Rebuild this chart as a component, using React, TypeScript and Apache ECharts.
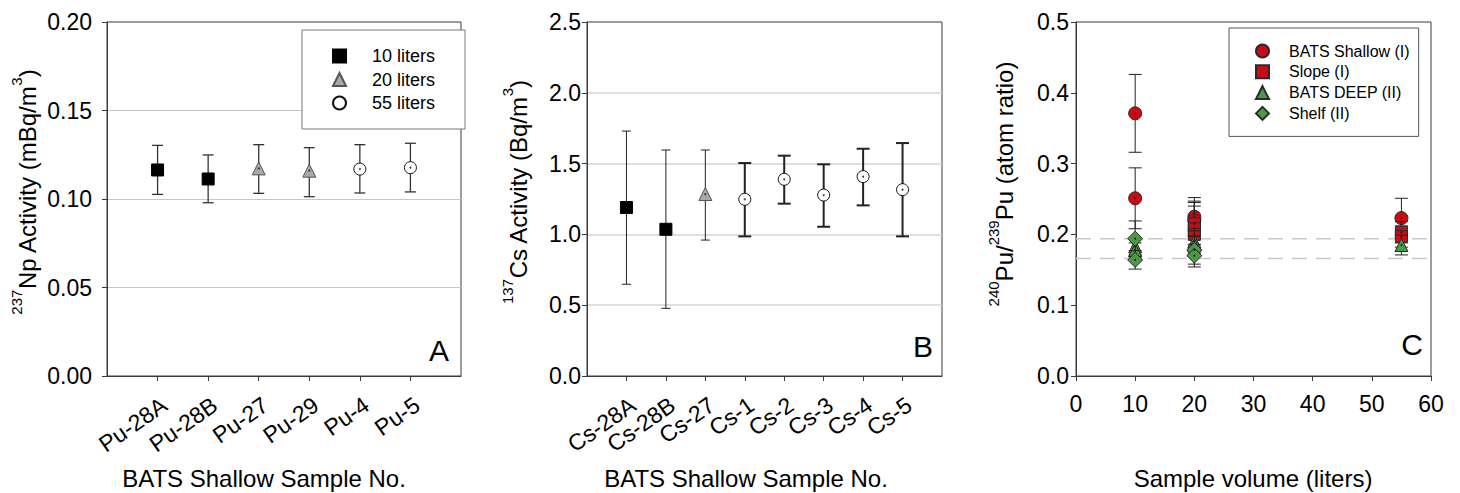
import React, { useEffect, useRef } from 'react';
import * as echarts from 'echarts';

const FONT = '"Liberation Sans", Arial, Helvetica, sans-serif';

// ---------- Panel A: 237Np activity ----------
const npCategories = ['Pu-28A', 'Pu-28B', 'Pu-27', 'Pu-29', 'Pu-4', 'Pu-5'];
const npVolume = [10, 10, 20, 20, 55, 55];
const npValues = [0.1164, 0.1113, 0.1173, 0.116, 0.1169, 0.1177];
const npLow = [0.1026, 0.0979, 0.1032, 0.1013, 0.1034, 0.104];
const npHigh = [0.1303, 0.1249, 0.1307, 0.129, 0.1307, 0.1315];
const npTicks = [0, 0.05, 0.1, 0.15, 0.2];

// ---------- Panel B: 137Cs activity ----------
const csCategories = ['Cs-28A', 'Cs-28B', 'Cs-27', 'Cs-1', 'Cs-2', 'Cs-3', 'Cs-4', 'Cs-5'];
const csVolume = [10, 10, 20, 55, 55, 55, 55, 55];
const csValues = [1.19, 1.036, 1.285, 1.248, 1.389, 1.278, 1.408, 1.316];
const csLow = [0.648, 0.478, 0.96, 0.986, 1.217, 1.054, 1.205, 0.986];
const csHigh = [1.73, 1.596, 1.596, 1.504, 1.556, 1.495, 1.605, 1.645];
const csTicks = [0, 0.5, 1.0, 1.5, 2.0, 2.5];

// legend of sample volumes
const volumeNames = ['10 liters', '20 liters', '55 liters'];
const volumeValues = [10, 20, 55];

// ---------- Panel C: 240Pu/239Pu ----------
const groupNames = ['BATS Shallow (I)', 'Slope (I)', 'BATS DEEP (II)', 'Shelf (II)'];
const shallowVol = [10, 10, 20, 20, 55];
const shallowRatio = [0.371, 0.251, 0.225, 0.22, 0.223];
const shallowErr = [0.055, 0.043, 0.027, 0.027, 0.028];
const slopeVol = [20, 20, 20, 55, 55];
const slopeRatio = [0.215, 0.208, 0.2, 0.203, 0.197];
const slopeErr = [0.03, 0.032, 0.02, 0.015, 0.015];
const deepVol = [10, 10, 20, 20, 55];
const deepRatio = [0.183, 0.178, 0.19, 0.185, 0.185];
const deepErr = [0.012, 0.01, 0.015, 0.012, 0.014];
const shelfVol = [10, 10, 20, 20];
const shelfRatio = [0.194, 0.164, 0.178, 0.17];
const shelfErr = [0.025, 0.013, 0.02, 0.016];
const refRatios = [0.194, 0.166];
const volTicks = [0, 10, 20, 30, 40, 50, 60];
const ratioTicks = [0, 0.1, 0.2, 0.3, 0.4, 0.5];

const RED = '#cc0a14';
const GREEN = '#4c9a48';

const volumeStyle: Record<number, any> = {
  10: { symbol: 'rect', size: 12, color: '#000000', borderColor: '#000000' },
  20: { symbol: 'triangle', size: 13, color: '#a9a9a9', borderColor: '#555555' },
  55: { symbol: 'circle', size: 12, color: '#ffffff', borderColor: '#111111' },
};

function errorBarSeries(name: string, xi: number, data: number[][], color: string, lw: number, capHalf: number, z: number) {
  return {
    type: 'custom',
    name,
    xAxisIndex: xi,
    yAxisIndex: xi,
    z,
    silent: true,
    encode: { x: 0, y: [1, 2, 3] },
    data,
    renderItem: (params: any, api: any) => {
      const x = api.value(0);
      const lo = api.value(2);
      const hi = api.value(3);
      const pHi = api.coord([x, hi]);
      const pLo = api.coord([x, lo]);
      const style = { stroke: color, lineWidth: lw, fill: 'none' };
      return {
        type: 'group',
        children: [
          { type: 'line', shape: { x1: pHi[0], y1: pHi[1], x2: pLo[0], y2: pLo[1] }, style },
          { type: 'line', shape: { x1: pHi[0] - capHalf, y1: pHi[1], x2: pHi[0] + capHalf, y2: pHi[1] }, style },
          { type: 'line', shape: { x1: pLo[0] - capHalf, y1: pLo[1], x2: pLo[0] + capHalf, y2: pLo[1] }, style },
        ],
      };
    },
  };
}

function markerSeries(name: string, xi: number, data: number[][], st: any, z: number) {
  return {
    type: 'scatter',
    name,
    xAxisIndex: xi,
    yAxisIndex: xi,
    z,
    symbol: st.symbol,
    symbolSize: st.size,
    data,
    itemStyle: { color: st.color, borderColor: st.borderColor, borderWidth: 1, opacity: 1 },
  };
}

function dotSeries(name: string, xi: number, data: number[][], z: number) {
  return {
    type: 'scatter',
    name,
    xAxisIndex: xi,
    yAxisIndex: xi,
    z,
    silent: true,
    symbol: 'circle',
    symbolSize: 2,
    data,
    itemStyle: { color: '#111' },
  };
}

function padCats(c: string[]) {
  return [' ', ...c, '  '];
}

function buildOption() {
  const series: any[] = [];

  // Panel A
  volumeValues.forEach((v, k) => {
    const idx = npVolume.map((vv, i) => (vv === v ? i : -1)).filter((i) => i >= 0);
    const st = volumeStyle[v];
    series.push(errorBarSeries('A err ' + v, 0, idx.map((i) => [i + 1, npValues[i], npLow[i], npHigh[i]]), '#333', 1.3, 5.5, 2));
    series.push(markerSeries(volumeNames[k], 0, idx.map((i) => [i + 1, npValues[i]]), st, 3));
    series.push(dotSeries('A dot ' + v, 0, idx.map((i) => [i + 1, npValues[i]]), 4));
  });

  // Panel B
  volumeValues.forEach((v) => {
    const idx = csVolume.map((vv, i) => (vv === v ? i : -1)).filter((i) => i >= 0);
    const st = volumeStyle[v];
    const thick = v === 55;
    series.push(errorBarSeries('B err ' + v, 1, idx.map((i) => [i + 1, csValues[i], csLow[i], csHigh[i]]), '#222', thick ? 2 : 1, thick ? 6.5 : 4.5, 2));
    series.push(markerSeries('B ' + v + ' liters', 1, idx.map((i) => [i + 1, csValues[i]]), st, 3));
    series.push(dotSeries('B dot ' + v, 1, idx.map((i) => [i + 1, csValues[i]]), 4));
  });

  // Panel C reference lines
  refRatios.forEach((r, i) => {
    series.push({
      type: 'line',
      name: 'ref ' + i,
      xAxisIndex: 2,
      yAxisIndex: 2,
      z: 1,
      silent: true,
      symbol: 'none',
      data: [[volTicks[0], r], [volTicks[volTicks.length - 1], r]],
      lineStyle: { color: '#c9c9c9', width: 1.5, type: [15, 9] },
    });
  });

  const groups = [
    { name: groupNames[0], vol: shallowVol, val: shallowRatio, err: shallowErr, st: { symbol: 'circle', size: 13, color: RED, borderColor: '#2a2a2a' } },
    { name: groupNames[1], vol: slopeVol, val: slopeRatio, err: slopeErr, st: { symbol: 'rect', size: 12, color: RED, borderColor: '#2a2a2a' } },
    { name: groupNames[2], vol: deepVol, val: deepRatio, err: deepErr, st: { symbol: 'triangle', size: 13, color: GREEN, borderColor: '#2a2a2a' } },
    { name: groupNames[3], vol: shelfVol, val: shelfRatio, err: shelfErr, st: { symbol: 'diamond', size: 15, color: GREEN, borderColor: '#2a2a2a' } },
  ];
  groups.forEach((g, k) => {
    const z = 2 + k * 3;
    series.push(errorBarSeries('C err ' + k, 2, g.vol.map((v, i) => [v, g.val[i], g.val[i] - g.err[i], g.val[i] + g.err[i]]), '#222', 1, 6.5, z));
    series.push(markerSeries(g.name, 2, g.vol.map((v, i) => [v, g.val[i]]), g.st, z + 1));
    series.push(dotSeries('C dot ' + k, 2, g.vol.map((v, i) => [v, g.val[i]]), z + 2));
  });

  const tickLabel = { color: '#000', fontSize: 23, fontFamily: FONT };
  const frame = { show: true, borderColor: '#3a3a3a', borderWidth: 1 };
  const axisLineStyle = { show: true, lineStyle: { color: '#3a3a3a', width: 1 } };
  const tickStyle = { show: true, inside: false, length: 5, lineStyle: { color: '#3a3a3a', width: 1 } };

  // category axis; `labelFilter` selects which category labels this axis draws
  const catAxis = (gi: number, cats: string[], labelFilter: (i: number) => boolean, decor: boolean) => {
    const all = padCats(cats);
    const inner = (i: number) => i > 0 && i < all.length - 1;
    return {
      type: 'category',
      gridIndex: gi,
      position: 'bottom',
      data: all,
      boundaryGap: false,
      axisLine: decor ? axisLineStyle : { show: false },
      axisTick: decor ? { ...tickStyle, interval: inner } : { show: false },
      axisLabel: {
        ...tickLabel,
        rotate: 35,
        margin: 17,
        verticalAlign: 'top',
        interval: (i: number) => inner(i) && labelFilter(i),
        showMinLabel: true,
        showMaxLabel: true,
        hideOverlap: false,
      },
      splitLine: { show: false },
    };
  };

  const rich = {
    m: { fontSize: 24, lineHeight: 24, fontFamily: FONT, color: '#000', verticalAlign: 'bottom' },
    s: { fontSize: 15, fontFamily: FONT, color: '#000', verticalAlign: 'top', padding: [0, 0, 16, 0] },
  };

  const yTitle = (x: number, y: number, text: string) => ({
    type: 'text',
    x,
    y,
    rotation: Math.PI / 2,
    style: { text, rich, align: 'center', verticalAlign: 'middle' },
    silent: true,
  });
  const xTitle = (x: number, y: number, text: string) => ({
    type: 'text',
    x,
    y,
    style: { text, fontSize: 24, fontFamily: FONT, fill: '#000', align: 'center', verticalAlign: 'middle' },
    silent: true,
  });
  const letter = (x: number, y: number, text: string) => ({
    type: 'text',
    x,
    y,
    style: { text, fontSize: 30, fontFamily: FONT, fill: '#000', align: 'right', verticalAlign: 'middle' },
    silent: true,
  });

  const legendText = (size: number, lh: number, gap: number) => ({
    fontSize: size,
    lineHeight: lh,
    color: '#000',
    fontFamily: FONT,
    rich: {
      g: { width: gap, fontSize: size, lineHeight: lh },
      t: { fontSize: size, lineHeight: lh, color: '#000', fontFamily: FONT },
    },
  });

  const all = () => true;
  const odd = (i: number) => i % 2 === 1;
  const even = (i: number) => i % 2 === 0;

  return {
    animation: false,
    backgroundColor: '#ffffff',
    textStyle: { fontFamily: FONT },
    grid: [
      { left: 107, top: 22, width: 354, height: 354, ...frame },
      { left: 587, top: 22, width: 355, height: 354, ...frame },
      { left: 1076, top: 22, width: 355, height: 354, ...frame },
    ],
    xAxis: [
      catAxis(0, npCategories, all, true),
      catAxis(1, csCategories, odd, true),
      {
        type: 'value',
        gridIndex: 2,
        min: volTicks[0],
        max: volTicks[volTicks.length - 1],
        interval: 10,
        axisLine: axisLineStyle,
        axisTick: tickStyle,
        axisLabel: { ...tickLabel, margin: 16 },
        splitLine: { show: false },
      },
      catAxis(1, csCategories, even, false),
    ],
    yAxis: [
      {
        type: 'value',
        gridIndex: 0,
        min: npTicks[0],
        max: npTicks[npTicks.length - 1],
        interval: 0.05,
        axisLine: axisLineStyle,
        axisTick: tickStyle,
        axisLabel: { ...tickLabel, margin: 15, formatter: (v: number) => v.toFixed(2) },
        splitLine: { show: true, showMinLine: false, showMaxLine: false, lineStyle: { color: '#c6c6c6', width: 1 } },
      },
      {
        type: 'value',
        gridIndex: 1,
        min: csTicks[0],
        max: csTicks[csTicks.length - 1],
        interval: 0.5,
        axisLine: axisLineStyle,
        axisTick: tickStyle,
        axisLabel: { ...tickLabel, margin: 6, formatter: (v: number) => v.toFixed(1) },
        splitLine: { show: true, showMinLine: false, showMaxLine: false, lineStyle: { color: '#d4d4d4', width: 1.5 } },
      },
      {
        type: 'value',
        gridIndex: 2,
        min: ratioTicks[0],
        max: ratioTicks[ratioTicks.length - 1],
        interval: 0.1,
        axisLine: axisLineStyle,
        axisTick: tickStyle,
        axisLabel: { ...tickLabel, margin: 7, formatter: (v: number) => v.toFixed(1) },
        splitLine: { show: false },
      },
    ],
    legend: [
      {
        data: volumeNames,
        orient: 'vertical',
        left: 302,
        top: 30,
        padding: [16, 30, 16, 30],
        itemWidth: 13,
        itemHeight: 13,
        itemGap: 3.5,
        borderColor: '#777',
        borderWidth: 1,
        backgroundColor: '#fff',
        selectedMode: false,
        formatter: (name: string) => '{g|}{t|' + name + '}',
        textStyle: legendText(18, 20, 21),
      },
      {
        data: groupNames,
        orient: 'vertical',
        left: 1229,
        top: 28,
        padding: [14, 9, 14, 26],
        itemWidth: 13,
        itemHeight: 13,
        itemGap: 2.8,
        borderColor: '#555',
        borderWidth: 1,
        backgroundColor: '#fff',
        selectedMode: false,
        formatter: (name: string) => '{g|}{t|' + name + '}',
        textStyle: legendText(16, 18, 15),
      },
    ],
    graphic: [
      yTitle(24, 192, '{s|237}{m|Np Activity (mBq/m}{s|3}{m|)}'),
      yTitle(515, 192, '{s|137}{m|Cs Activity (Bq/m}{s|3}{m|)}'),
      yTitle(1001, 184, '{s|240}{m|Pu/}{s|239}{m|Pu (atom ratio)}'),
      xTitle(264, 478, 'BATS Shallow Sample No.'),
      xTitle(746, 478, 'BATS Shallow Sample No.'),
      xTitle(1253, 478, 'Sample volume (liters)'),
      letter(449, 350, 'A'),
      letter(933, 346, 'B'),
      letter(1423, 344, 'C'),
    ],
    series,
  };
}

export default function App() {
  const ref = useRef<HTMLDivElement>(null);
  useEffect(() => {
    if (!ref.current) return;
    const chart = echarts.init(ref.current, null, { renderer: 'svg' });
    chart.setOption(buildOption() as any);
    return () => chart.dispose();
  }, []);
  return (
    <div
      ref={ref}
      style={{ position: 'absolute', left: 0, top: 0, width: 1460, height: 493, background: '#fff' }}
    />
  );
}
